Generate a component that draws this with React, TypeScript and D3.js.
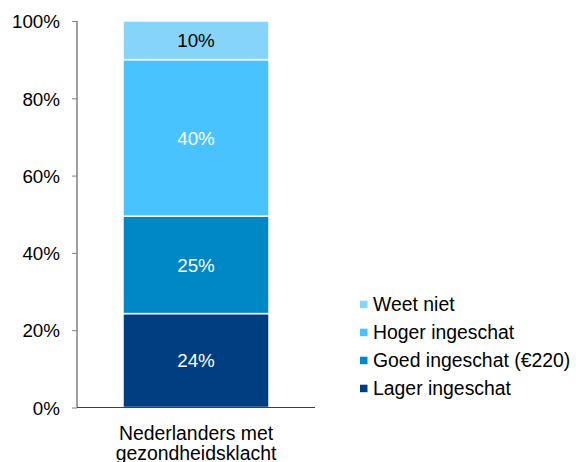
import React, { useEffect, useRef } from 'react';
import * as d3 from 'd3';

// categories and series (bottom to top)
const categories = ['Nederlanders met gezondheidsklacht'];
const categoryLines = ['Nederlanders met', 'gezondheidsklacht'];
const seriesNames = ['Lager ingeschat', 'Goed ingeschat (€220)', 'Hoger ingeschat', 'Weet niet'];
const seriesValues = [24.3, 25.2, 40.5, 10];
const seriesLabels = ['24%', '25%', '40%', '10%'];
const seriesColors = ['#003E82', '#0087C6', '#48C3FE', '#87D4FA'];
const labelColors = ['#ffffff', '#ffffff', '#ffffff', '#000000'];
const yTicks = [0, 20, 40, 60, 80, 100];

export default function App() {
  const svgRef = useRef<SVGSVGElement>(null);

  useEffect(() => {
    if (!svgRef.current) return;
    const svg = d3.select(svgRef.current);
    svg.selectAll('*').remove();

    const font = "'Liberation Sans', Arial, sans-serif";
    const left = 77;
    const axisRight = 315;
    const top = 21;
    const bottom = 407.5;

    const y = d3.scaleLinear().domain([0, 100]).range([bottom, top]);
    const x = d3.scaleBand().domain(categories).range([left, axisRight]).paddingInner(0).paddingOuter(0.2);
    const bw = 146;
    const cx = x(categories[0])! + x.bandwidth() / 2;
    const x0 = cx - bw / 2;

    // stacked segments
    let acc = 0;
    const segs = seriesValues.map((v, i) => {
      const s = { y0: acc, y1: acc + v, i };
      acc += v;
      return s;
    });

    const g = svg.append('g');
    g.selectAll('rect.seg')
      .data(segs)
      .join('rect')
      .attr('class', 'seg')
      .attr('x', x0)
      .attr('width', bw)
      .attr('y', d => y(d.y1))
      .attr('height', d => y(d.y0) - y(d.y1))
      .attr('fill', d => seriesColors[d.i])
      .attr('stroke', '#ffffff')
      .attr('stroke-width', 1.5);

    g.selectAll('text.lbl')
      .data(segs)
      .join('text')
      .attr('class', 'lbl')
      .attr('x', cx)
      .attr('y', d => (y(d.y0) + y(d.y1)) / 2)
      .attr('dy', '0.36em')
      .attr('text-anchor', 'middle')
      .attr('font-family', font)
      .attr('font-size', 18.8)
      .attr('fill', d => labelColors[d.i])
      .text(d => seriesLabels[d.i]);

    // y axis
    const yAxis = svg.append('g')
      .attr('transform', `translate(${left},0)`)
      .call(d3.axisLeft(y).tickValues(yTicks).tickSize(5).tickPadding(12).tickFormat(d => `${d}%`));
    yAxis.select('.domain').attr('stroke', '#404040').attr('d', `M0,${top}V${bottom}`);
    yAxis.selectAll('.tick line').attr('stroke', '#808080');
    yAxis.selectAll('text').attr('font-family', font).attr('font-size', 18.8).attr('fill', '#000').attr('dy', '0.36em');

    // x axis baseline
    svg.append('line')
      .attr('x1', left).attr('x2', axisRight)
      .attr('y1', bottom).attr('y2', bottom)
      .attr('stroke', '#404040').attr('stroke-width', 1);

    // category label
    const cat = svg.append('text')
      .attr('text-anchor', 'middle')
      .attr('font-family', font)
      .attr('font-size', 19.4)
      .attr('fill', '#000');
    categoryLines.forEach((w, i) => {
      cat.append('tspan').attr('x', cx).attr('y', 439.5 + i * 20.5).text(w);
    });

    // legend (top to bottom: reverse stack order)
    const legendItems = seriesNames.map((n, i) => ({ n, i })).reverse();
    const lg = svg.append('g').attr('transform', 'translate(360,304.5)');
    const row = lg.selectAll('g').data(legendItems).join('g')
      .attr('transform', (_, k) => `translate(0,${k * 28})`);
    row.append('rect')
      .attr('x', 0).attr('y', -3.8)
      .attr('width', 7.5).attr('height', 7.5)
      .attr('fill', d => seriesColors[d.i]);
    row.append('text')
      .attr('x', 13).attr('y', 0).attr('dy', '0.36em')
      .attr('font-family', font).attr('font-size', 19.4).attr('fill', '#000')
      .text(d => d.n);
  }, []);

  return (
    <svg ref={svgRef} width={576} height={462}
      style={{ position: 'absolute', left: 0, top: 0, background: '#fff' }} />
  );
}
